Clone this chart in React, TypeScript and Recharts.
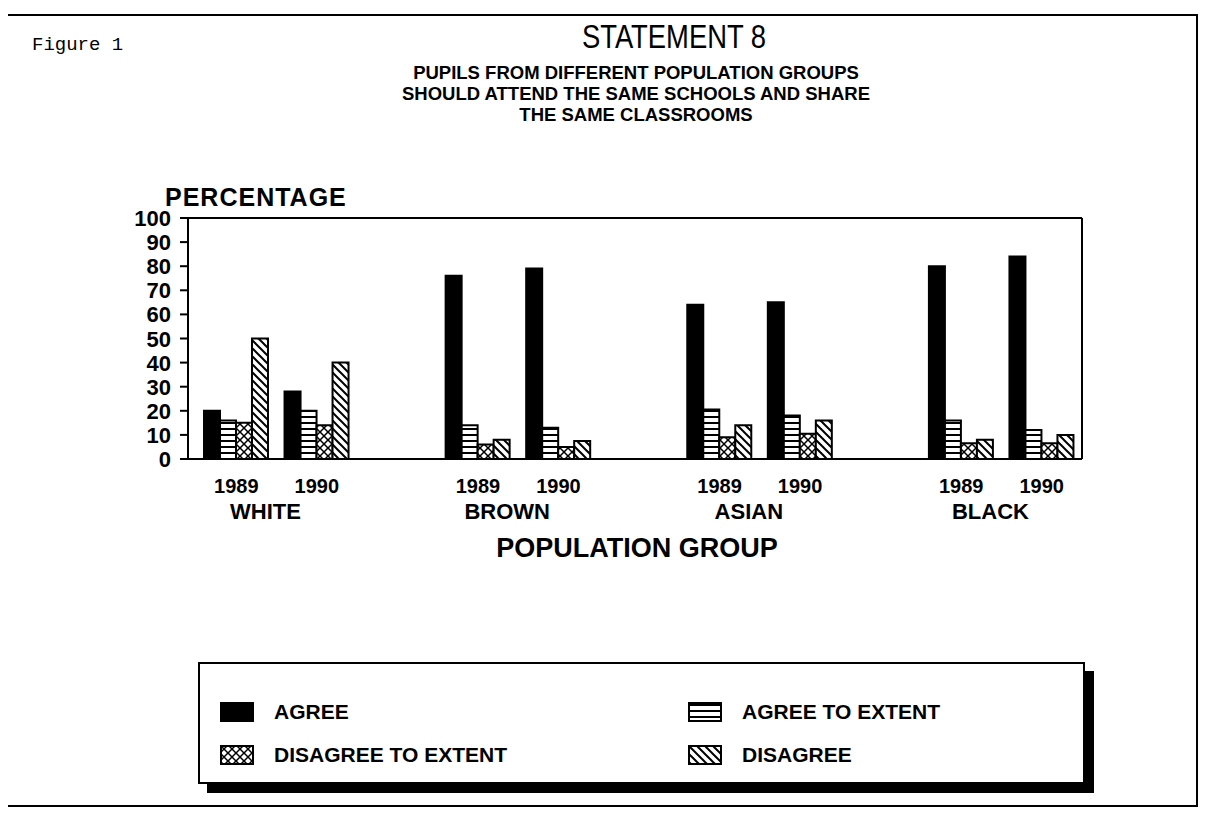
import React from "react"
import { BarChart, Bar, XAxis, YAxis, ReferenceLine } from "recharts"

const groups = ["WHITE", "BROWN", "ASIAN", "BLACK"]
const years = ["1989", "1990"]
// values per group/year, in order WHITE89, WHITE90, BROWN89, BROWN90, ASIAN89, ASIAN90, BLACK89, BLACK90
const agree = [20, 28, 76, 79, 64, 65, 80, 84]
const agreeToExtent = [16, 20, 14, 13, 20.5, 18, 16, 12]
const disagreeToExtent = [15, 14, 6, 5, 9, 10.5, 6.5, 6.5]
const disagree = [50, 40, 8, 7.5, 14, 16, 8, 10]
const yTicks = [0, 10, 20, 30, 40, 50, 60, 70, 80, 90, 100]

const series = [
  { key: "agree", name: "AGREE", fill: "#000" },
  { key: "agreeToExtent", name: "AGREE TO EXTENT", fill: "url(#hlines)" },
  { key: "disagreeToExtent", name: "DISAGREE TO EXTENT", fill: "url(#xhatch)" },
  { key: "disagree", name: "DISAGREE", fill: "url(#dlines)" },
]

// rows: two years per group, an empty slot between groups
const rows: any[] = []
groups.forEach((g, gi) => {
  years.forEach((y, yi) => {
    const i = gi * 2 + yi
    rows.push({
      key: `${g}-${y}`,
      year: y,
      group: yi === 0 ? g : "",
      agree: agree[i],
      agreeToExtent: agreeToExtent[i],
      disagreeToExtent: disagreeToExtent[i],
      disagree: disagree[i],
    })
  })
  if (gi < groups.length - 1) rows.push({ key: `gap-${gi}`, year: "", group: "" })
})

const FONT = '"Liberation Sans", Arial, Helvetica, sans-serif'
const CHART_W = 1206
const PLOT_LEFT = 188
const PLOT_RIGHT = 1082
const PAD_LEFT = 8
const band = (PLOT_RIGHT - PLOT_LEFT - PAD_LEFT) / rows.length

function XTick(props: any) {
  const { x, y, payload } = props
  const row = rows.find((r) => r.key === payload.value)
  if (!row || !row.year) return null
  return (
    <g>
      <text x={x} y={y + 26} textAnchor="middle" fontFamily={FONT} fontWeight="bold" fontSize={20} fill="#000">
        {row.year}
      </text>
      {row.group && (
        <text x={x + band / 2 - 11} y={y + 52} textAnchor="middle" fontFamily={FONT} fontWeight="bold" fontSize={22} fill="#000">
          {row.group}
        </text>
      )}
    </g>
  )
}

function YTick(props: any) {
  const { x, y, payload } = props
  return (
    <text x={x - 7} y={y + 8} textAnchor="end" fontFamily={FONT} fontWeight="bold" fontSize={22} fill="#000">
      {payload.value}
    </text>
  )
}

function Patterns() {
  return (
    <svg width={0} height={0} style={{ position: "absolute" }}>
      <defs>
        <pattern id="hlines" patternUnits="userSpaceOnUse" width={8} height={6}>
          <rect width={8} height={6} fill="#fff" />
          <line x1={0} y1={3} x2={8} y2={3} stroke="#000" strokeWidth={2} />
        </pattern>
        <pattern id="xhatch" patternUnits="userSpaceOnUse" width={8} height={8}>
          <rect width={8} height={8} fill="#fff" />
          <path d="M0,0 L8,8 M8,0 L0,8" stroke="#000" strokeWidth={1.5} />
        </pattern>
        <pattern id="dlines" patternUnits="userSpaceOnUse" width={8} height={8}>
          <rect width={8} height={8} fill="#fff" />
          <path d="M0,0 L8,8 M-2,6 L2,10 M6,-2 L10,2" stroke="#000" strokeWidth={2} />
        </pattern>
      </defs>
    </svg>
  )
}

function LegendIcon({ fill }: { fill: string }) {
  return (
    <svg width={34} height={20} style={{ display: "block" }}>
      <rect x={1} y={1} width={32} height={18} fill={fill} stroke="#000" strokeWidth={2} />
    </svg>
  )
}

export default function App() {
  const legendPos = [
    { left: 20, top: 36 },
    { left: 488, top: 36 },
    { left: 20, top: 79 },
    { left: 488, top: 79 },
  ]
  return (
    <div style={{ position: "relative", width: 1206, height: 818, background: "#fff", margin: -8, fontFamily: FONT }}>
      <Patterns />
      {/* page frame */}
      <div style={{ position: "absolute", left: 1, top: 14, width: 1194, height: 789, border: "2px solid #000", borderLeftWidth: 1 }} />

      <div style={{ position: "absolute", left: 32, top: 34, fontFamily: '"Liberation Mono", "DejaVu Sans Mono", monospace', fontSize: 19 }}>
        Figure 1
      </div>
      <div style={{ position: "absolute", left: 0, width: 1348, top: 18, textAlign: "center", fontSize: 33, lineHeight: "38px", transform: "scaleX(0.83)", transformOrigin: "674px 0" }}>
        STATEMENT 8
      </div>
      <div style={{ position: "absolute", left: 0, width: 1272, top: 62, textAlign: "center", fontSize: 18.5, fontWeight: "bold", lineHeight: "21px" }}>
        PUPILS FROM DIFFERENT POPULATION GROUPS
        <br />
        SHOULD ATTEND THE SAME SCHOOLS AND SHARE
        <br />
        THE SAME CLASSROOMS
      </div>
      <div style={{ position: "absolute", left: 165, top: 183, fontSize: 25, fontWeight: "bold", letterSpacing: 1 }}>PERCENTAGE</div>

      <div style={{ position: "absolute", left: 0, top: 0 }}>
        <BarChart
          width={CHART_W}
          height={560}
          data={rows}
          margin={{ top: 218, right: CHART_W - PLOT_RIGHT - 1, left: PLOT_LEFT - 70, bottom: 38 }}
          barGap={0}
          barSize={16}
        >
          <XAxis
            dataKey="key"
            interval={0}
            tick={<XTick />}
            tickLine={false}
            axisLine={{ stroke: "#000", strokeWidth: 2 }}
            padding={{ left: PAD_LEFT, right: 0 }}
            height={63}
          />
          <YAxis
            domain={[0, 100]}
            ticks={yTicks}
            interval={0}
            width={70}
            tick={<YTick />}
            tickSize={8}
            tickLine={{ stroke: "#000", strokeWidth: 2 }}
            axisLine={{ stroke: "#000", strokeWidth: 2 }}
          />
          <YAxis
            yAxisId="right"
            orientation="right"
            domain={[0, 100]}
            width={1}
            tick={false}
            tickLine={false}
            axisLine={{ stroke: "#000", strokeWidth: 2 }}
          />
          <ReferenceLine y={100} stroke="#000" strokeWidth={2} />
          {series.map((s) => (
            <Bar key={s.key} dataKey={s.key} name={s.name} fill={s.fill} stroke="#000" strokeWidth={2} isAnimationActive={false} />
          ))}
        </BarChart>
      </div>

      <div style={{ position: "absolute", left: 0, width: 1274, top: 533, textAlign: "center", fontSize: 27, fontWeight: "bold" }}>
        POPULATION GROUP
      </div>

      {/* legend */}
      <div style={{ position: "absolute", left: 198, top: 662, width: 883, height: 118, border: "2px solid #000", boxShadow: "9px 9px 0 #000", background: "#fff" }}>
        {series.map((s, i) => (
          <div key={s.key} style={{ position: "absolute", left: legendPos[i].left, top: legendPos[i].top, display: "flex", alignItems: "center" }}>
            <LegendIcon fill={s.fill} />
            <span style={{ marginLeft: 20, fontSize: 21, fontWeight: "bold" }}>{s.name}</span>
          </div>
        ))}
      </div>
    </div>
  )
}
